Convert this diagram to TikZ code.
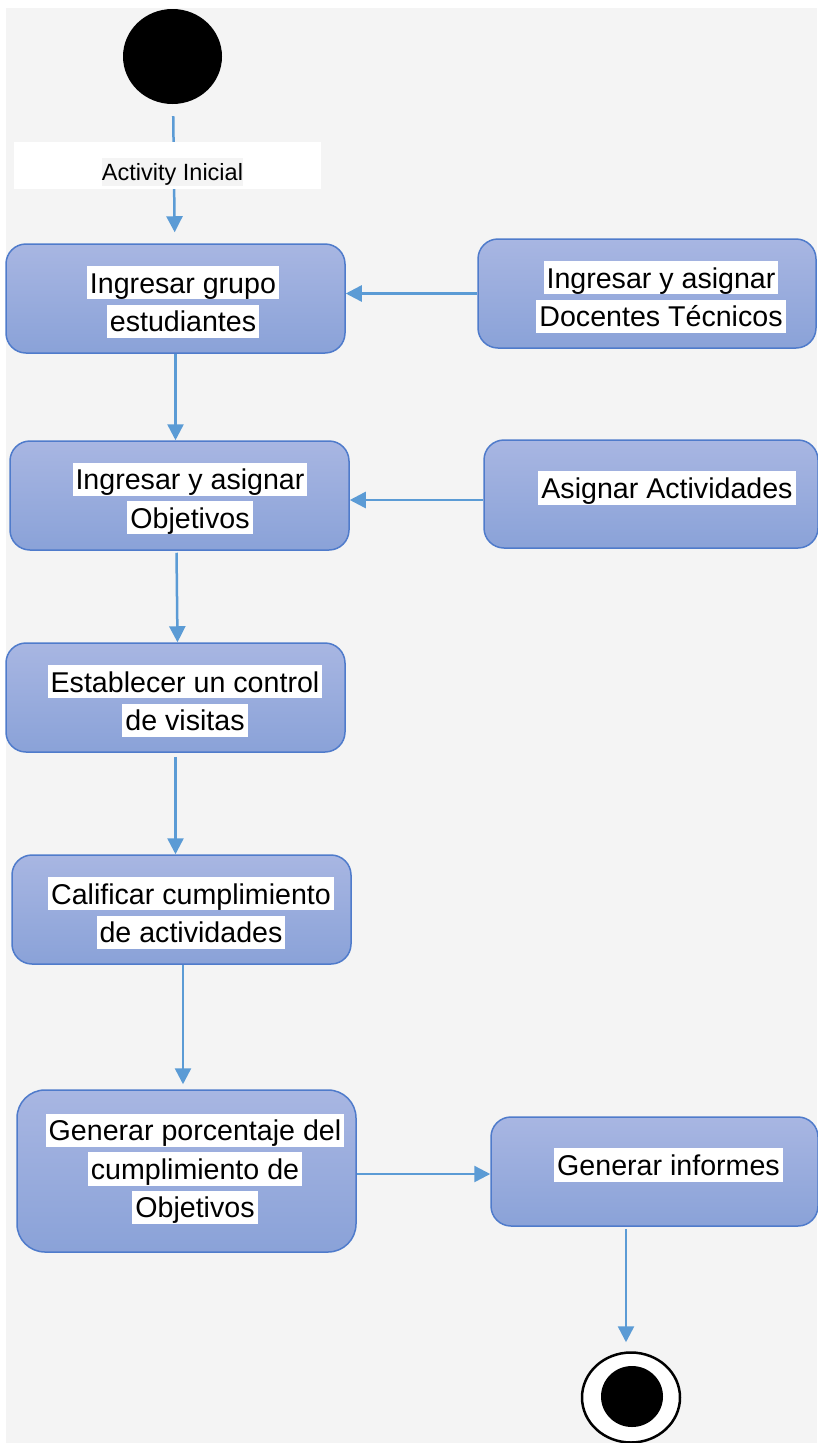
\documentclass[tikz,border=0pt]{standalone}
\usepackage{fontspec}
\setmainfont{Liberation Sans}
\usepackage{xcolor}
\usepackage{tikz}
\usetikzlibrary{shapes,arrows.meta,positioning}

\definecolor{bggrey}{HTML}{F4F4F4}
\definecolor{flowblue}{HTML}{5B9BD5}
\definecolor{boxtop}{HTML}{A8B6E2}
\definecolor{boxbot}{HTML}{8AA2D8}
\definecolor{boxline}{HTML}{4F7BCB}

\newcommand{\hlw}[1]{{\setlength{\fboxsep}{0pt}\colorbox{white}{\rule[-0.22em]{0pt}{1.16em}\hspace{3pt}#1\hspace{3pt}}}}

\begin{document}
\begin{tikzpicture}[
    x=1pt, y=-1pt,
    myact/.style={draw=boxline, line width=1.5pt, rounded corners=20pt, top color=boxtop, bottom color=boxbot, minimum width=339pt, minimum height=109pt, inner sep=0pt},
    mytext/.style={align=center, inner sep=0pt, font=\fontsize{28.6}{38.6}\selectfont},
    myedge/.style={draw=flowblue, line width=2.5pt, -{Triangle[length=16pt,width=16pt]}}
]
% page
\fill[white] (0,0) rectangle (817,1443);
\fill[bggrey] (6,8) rectangle (817,1443);
\useasboundingbox (0,0) rectangle (817,1443);

% start and end
\node[ellipse, fill=black, minimum width=99pt, minimum height=95pt, inner sep=0pt] (start) at (172.5,56.5) {};
\node[ellipse, draw=black, line width=2.5pt, fill=white, minimum width=98pt, minimum height=90pt, inner sep=0pt] (final) at (631,1397.5) {};
\node[ellipse, fill=black, minimum width=62pt, minimum height=61pt, inner sep=0pt] (finaldot) at (632,1396.5) {};

% activities
\node[myact] (grupo) at (175.5,298.5) {};
\node[myact, minimum width=338pt] (docentes) at (647,293.5) {};
\node[myact] (objetivos) at (179.5,495.5) {};
\node[myact, minimum width=334pt, minimum height=108pt] (actividades) at (651,494) {};
\node[myact] (visitas) at (175.5,697.5) {};
\node[myact] (calificar) at (181.5,909.5) {};
\node[myact, minimum height=162pt, rounded corners=28pt] (porcentaje) at (186.5,1171) {};
\node[myact, minimum width=327pt] (informes) at (654.5,1171.5) {};

\node[mytext] (grupo-t) at (183,302) {\hlw{Ingresar grupo}\\\hlw{estudiantes}};
\node[mytext] (docentes-t) at (661,297) {\hlw{Ingresar y asignar}\\\hlw{Docentes Técnicos}};
\node[mytext] (objetivos-t) at (190,498.5) {\hlw{Ingresar y asignar}\\\hlw{Objetivos}};
\node[mytext] (actividades-t) at (667,488) {\hlw{Asignar Actividades}};
\node[mytext] (visitas-t) at (185,701) {\hlw{Establecer un control}\\\hlw{de visitas}};
\node[mytext] (calificar-t) at (191,913) {\hlw{Calificar cumplimiento}\\\hlw{de actividades}};
\node[mytext] (porcentaje-t) at (195,1169) {\hlw{Generar porcentaje del}\\\hlw{cumplimiento de}\\\hlw{Objetivos}};
\node[mytext] (informes-t) at (668.5,1165) {\hlw{Generar informes}};

% flows
\draw[myedge, shorten <=12pt, shorten >=11pt] (start) -- (grupo);
\draw[myedge] (docentes.west) -- (docentes.west -| grupo.east);
\draw[myedge] (grupo.south) -- (grupo.south |- objetivos.north);
\draw[myedge] ([yshift=-6pt]actividades.west) -- ([yshift=-6pt]actividades.west -| objetivos.east);
\draw[myedge, shorten <=2pt] ([xshift=-3pt]objetivos.south) -- ([xshift=-2pt]objetivos.south |- visitas.north);
\draw[myedge, shorten <=4pt] (visitas.south) -- (visitas.south |- calificar.north);
\draw[myedge, shorten >=5pt] ([xshift=1.5pt]calificar.south) -- ([xshift=1.5pt]calificar.south |- porcentaje.north);
\draw[myedge] ([yshift=-3pt]porcentaje.east) -- ([yshift=-3pt]porcentaje.east -| informes.west);
\draw[myedge, shorten <=2pt, shorten >=9pt] ([xshift=-28.5pt]informes.south) -- ([xshift=-28.5pt]informes.south |- final.north);

% label on the first flow
\node[fill=white, minimum width=307pt, minimum height=47pt, inner sep=0pt] (inicial-box) at (167.5,165.5) {};
\node[fill=bggrey, inner sep=0pt, font=\fontsize{23.5}{28}\selectfont] (inicial) at (172.5,172) {\rule[-0.22em]{0pt}{1.16em}Activity Inicial};
\end{tikzpicture}
\end{document}
